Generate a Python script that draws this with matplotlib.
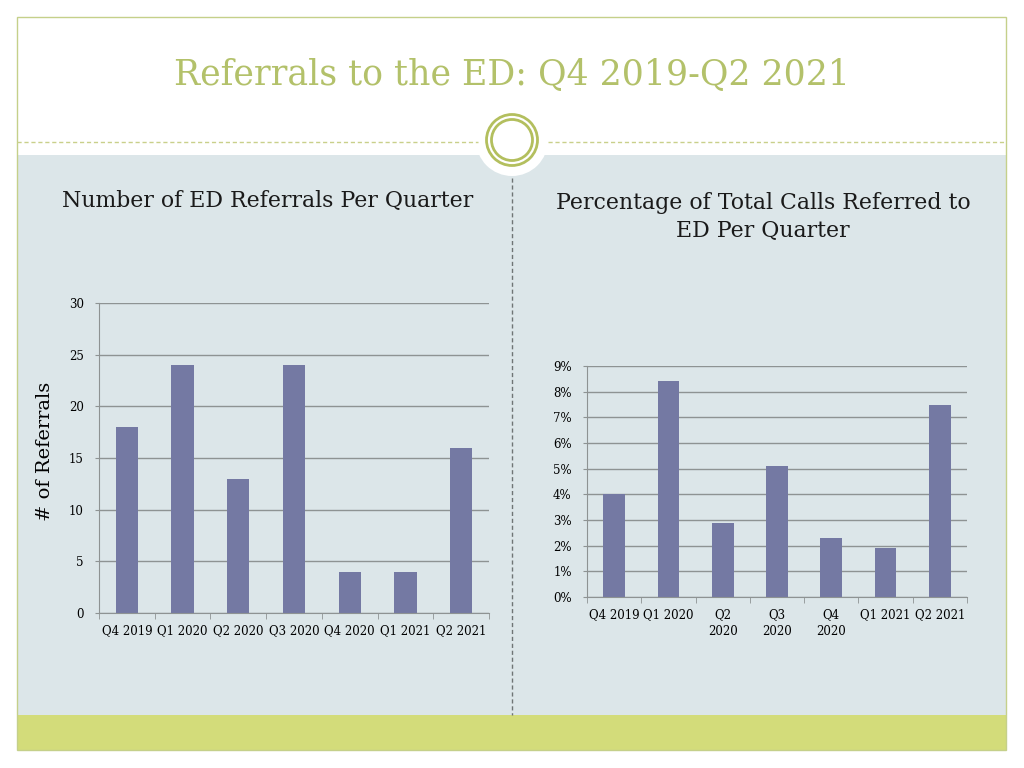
import matplotlib
matplotlib.use('Agg')
import matplotlib.pyplot as plt
import numpy as np
from matplotlib.patches import Rectangle, Circle
from matplotlib.ticker import FuncFormatter

# data
quarters = ['Q4 2019', 'Q1 2020', 'Q2 2020', 'Q3 2020', 'Q4 2020', 'Q1 2021', 'Q2 2021']
referrals = [18, 24, 13, 24, 4, 4, 16]
pct_labels = ['Q4 2019', 'Q1 2020', 'Q2\n2020', 'Q3\n2020', 'Q4\n2020', 'Q1 2021', 'Q2 2021']
pct_referred = [4.0, 8.4, 2.9, 5.1, 2.3, 1.9, 7.5]

W, H = 1024, 768
plt.rcParams['font.family'] = ['DejaVu Serif']

bar_col = '#7479A3'
grid_col = '#8E9393'
panel_col = '#DCE6E9'
green = '#D3DC7A'
title_col = '#B3C16A'

fig = plt.figure(figsize=(W/100, H/100), dpi=100)

# slide background drawn in pixel coords
bg = fig.add_axes([0, 0, 1, 1])
bg.set_xlim(0, W)
bg.set_ylim(H, 0)
bg.axis('off')
bg.add_patch(Rectangle((17, 155), 989, 560, color=panel_col, lw=0))
bg.add_patch(Rectangle((17, 715), 989, 35, color=green, lw=0))
bg.add_patch(Rectangle((17, 17), 989, 733, fill=False, ec='#C5D08A', lw=1))
bg.plot([17, 478], [142, 142], ls=(0, (3, 2)), color='#C9D08A', lw=1)
bg.plot([548, 1006], [142, 142], ls=(0, (3, 2)), color='#C9D08A', lw=1)
bg.add_patch(Circle((512, 140), 36, color='white', lw=0))
bg.add_patch(Circle((512, 140), 25.5, fill=False, ec='#B3BF5E', lw=2))
bg.add_patch(Circle((512, 140), 20.5, fill=False, ec='#B3BF5E', lw=2))
bg.plot([512, 512], [178, 715], ls=(0, (3, 2)), color='#6F7575', lw=1)

fig.text(512/W, 1 - 75/H, 'Referrals to the ED: Q4 2019-Q2 2021', ha='center', va='center',
         fontsize=25, color=title_col)
fig.text(268/W, 1 - 201/H, 'Number of ED Referrals Per Quarter', ha='center', va='center',
         fontsize=15.8, color='#1a1a1a')
fig.text(763/W, 1 - 217/H, 'Percentage of Total Calls Referred to\nED Per Quarter', ha='center',
         va='center', fontsize=15.8, color='#1a1a1a', linespacing=1.3)


def px_axes(x0, y0, x1, y1):
    return fig.add_axes([x0/W, 1 - y1/H, (x1 - x0)/W, (y1 - y0)/H])


def style(ax, labels):
    n = len(labels)
    ax.set_facecolor('none')
    ax.set_xlim(-0.5, n - 0.5)
    ax.set_xticks(range(n))
    ax.set_xticklabels(labels, fontsize=8.5)
    ax.set_xticks(np.arange(-0.5, n, 1), minor=True)
    ax.tick_params(axis='x', which='major', length=0, pad=8)
    ax.tick_params(axis='x', which='minor', length=4, color=grid_col)
    ax.tick_params(axis='y', length=3, color=grid_col, labelsize=8.5, pad=8)
    for s in ['top', 'right']:
        ax.spines[s].set_visible(False)
    for s in ['left', 'bottom']:
        ax.spines[s].set_color(grid_col)
    ax.grid(axis='y', color=grid_col, lw=1)
    ax.set_axisbelow(True)


ax1 = px_axes(99, 303, 489, 613)
ax1.bar(range(len(quarters)), referrals, width=0.4, color=bar_col)
ax1.set_ylim(0, 30)
ax1.set_yticks(range(0, 31, 5))
style(ax1, quarters)
ax1.set_ylabel('# of Referrals', fontsize=14)
ax1.yaxis.set_label_coords(-45/390, 0.52)

ax2 = px_axes(587, 366, 967, 597)
ax2.bar(range(len(pct_labels)), pct_referred, width=0.4, color=bar_col)
ax2.set_ylim(0, 9)
ax2.set_yticks(range(0, 10))
ax2.yaxis.set_major_formatter(FuncFormatter(lambda v, p: '{:.0f}%'.format(v)))
style(ax2, pct_labels)
for lbl in ax2.get_xticklabels():
    lbl.set_linespacing(1.4)

fig.savefig('out.png', dpi=100)
